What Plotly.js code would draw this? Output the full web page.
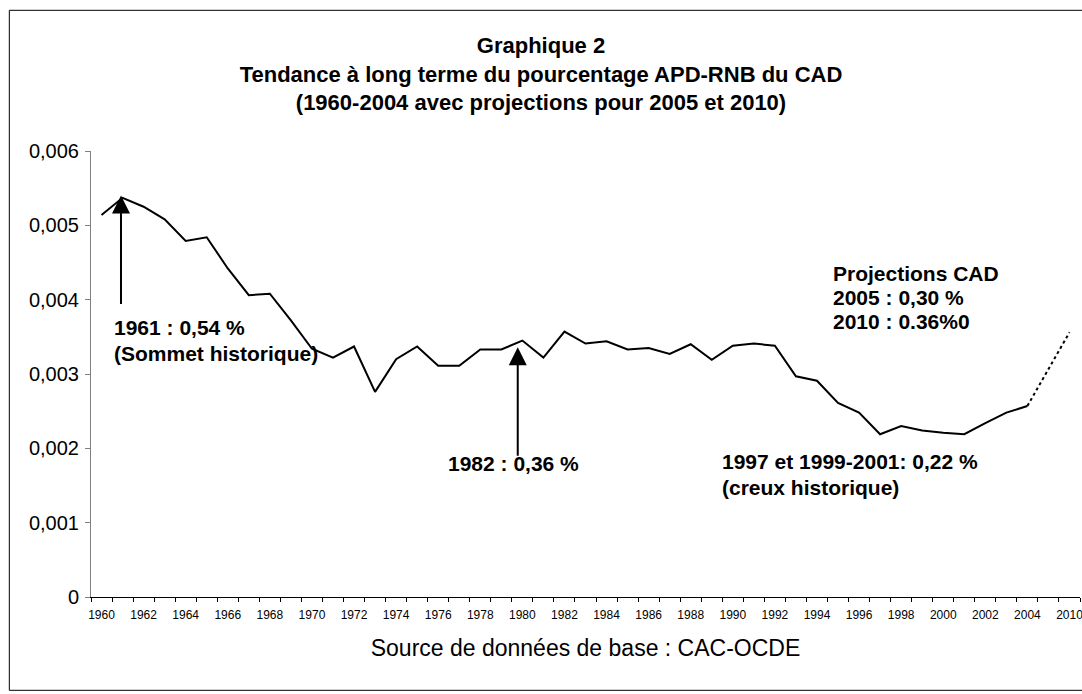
<!DOCTYPE html>
<html><head><meta charset="utf-8">
<script src="https://cdn.plot.ly/plotly-3.0.1.min.js"></script>
<style>body{margin:0;background:#fff}</style>
</head><body><div id="chart" style="width:1082px;height:694px"></div>
<script>
const categories = ['1960','1961','1962','1963','1964','1965','1966','1967','1968','1969',
  '1970','1971','1972','1973','1974','1975','1976','1977','1978','1979',
  '1980','1981','1982','1983','1984','1985','1986','1987','1988','1989',
  '1990','1991','1992','1993','1994','1995','1996','1997','1998','1999',
  '2000','2001','2002','2003','2004','2005','2010'];
const histYears = categories.slice(0, 45);
const histValues = [0.00514,0.00537,0.00525,0.00508,0.00479,0.00484,0.00442,0.00406,0.00408,0.00372,
  0.00334,0.00322,0.00337,0.00276,0.00320,0.00337,0.00311,0.00311,0.00333,0.00333,
  0.00345,0.00322,0.00357,0.00341,0.00344,0.00333,0.00335,0.00327,0.00340,0.00319,
  0.00338,0.00341,0.00338,0.00297,0.00291,0.00261,0.00248,0.00219,0.00230,0.00224,
  0.00221,0.00219,0.00234,0.00248,0.00257];
const projYears = ['2004','2005','2010'];
const projValues = [0.00257,0.00306,0.00356];
const yTickVals = [0,0.001,0.002,0.003,0.004,0.005,0.006];
const yTickText = ['0','0,001','0,002','0,003','0,004','0,005','0,006'];
const xTickText = categories.map((c,i)=> i%2===0 ? c : '');
const projNote = ['Projections CAD','2005 : 0,30 %','2010 : 0.36%0'];

const FONT = 'Liberation Sans, Arial, sans-serif';
const traces = [
  {x: histYears, y: histValues, type:'scatter', mode:'lines',
   line:{color:'#000', width:2}, showlegend:false, hoverinfo:'skip'},
  {x: projYears, y: projValues, type:'scatter', mode:'lines',
   line:{color:'#000', width:2, dash:'dot'}, showlegend:false, hoverinfo:'skip'}
];
const L = 90.7, R = 1080, T = 150.7, B = 596.7;
const W = R - L, H = B - T;
const px = v => (v - L) / W;
const py = v => (B - v) / H;
const txt = (x, y, t, anchor) => ({xref:'paper', yref:'paper', x:px(x), y:py(y),
  xanchor:anchor || 'left', yanchor:'middle', align:anchor || 'left', showarrow:false,
  text:'<b>' + t + '</b>', font:{family:FONT, size:21, color:'#000'}});
const layout = {
  width:1082, height:694,
  margin:{l:L, r:1082-R, t:T, b:694-B, pad:0},
  paper_bgcolor:'#fff', plot_bgcolor:'#fff',
  font:{family:FONT, color:'#000'},
  showlegend:false,
  title:{text:'<b>Graphique 2<br>Tendance à long terme du pourcentage APD-RNB du CAD<br>(1960-2004 avec projections pour 2005 et 2010)</b>',
    font:{family:FONT, size:22, color:'#000'}, x:541/1082, xanchor:'center', xref:'container',
    y:1-53/694, yanchor:'top', yref:'container'},
  xaxis:{type:'category', categoryorder:'array', categoryarray:categories,
    range:[-0.5, 46.5], tickson:'boundaries', tickmode:'array', tickvals:categories, ticktext:xTickText,
    ticks:'outside', ticklen:4, tickcolor:'#000', tickwidth:1,
    showline:true, linecolor:'#000', linewidth:1, showgrid:false, zeroline:false,
    tickfont:{family:'Liberation Sans Narrow, Arial Narrow, sans-serif', size:12, color:'#000'},
    tickangle:0, ticklabelstandoff:7,
    title:{text:'Source de données de base : CAC-OCDE', font:{family:FONT, size:23, color:'#000'}, standoff:18}},
  yaxis:{range:[0,0.006], tickmode:'array', tickvals:yTickVals, ticktext:yTickText,
    ticks:'outside', ticklen:5, tickcolor:'#808080', tickwidth:1,
    showline:true, linecolor:'#808080', linewidth:1, showgrid:false, zeroline:false,
    tickfont:{family:FONT, size:20, color:'#000'}, ticklabelstandoff:2},
  shapes:[
    {type:'rect', xref:'paper', yref:'paper', x0:px(9), x1:px(1100), y0:py(690), y1:py(10),
     line:{color:'#000', width:1}, fillcolor:'rgba(0,0,0,0)', layer:'below'}
  ],
  annotations:[
    {x:0.925, y:0.0054, xref:'x', yref:'y', ax:0.925, ay:0.00392, axref:'x', ayref:'y',
     text:'', showarrow:true, arrowhead:2, arrowsize:1.8, arrowwidth:2, arrowcolor:'#000', standoff:0},
    {x:19.78, y:0.00336, xref:'x', yref:'y', ax:19.78, ay:0.00188, axref:'x', ayref:'y',
     text:'', showarrow:true, arrowhead:2, arrowsize:1.8, arrowwidth:2, arrowcolor:'#000', standoff:0},
    txt(112, 327, '1961 : 0,54 %'),
    txt(112, 353, '(Sommet historique)'),
    txt(513, 463, '1982 : 0,36 %', 'center'),
    txt(720, 461, '1997 et 1999-2001: 0,22 %'),
    txt(720, 487, '(creux historique)'),
    txt(831, 273, projNote[0]),
    txt(831, 297.5, projNote[1]),
    txt(831, 321.5, projNote[2])
  ]
};
Plotly.newPlot('chart', traces, layout, {displayModeBar:false, staticPlot:true});
</script></body></html>
